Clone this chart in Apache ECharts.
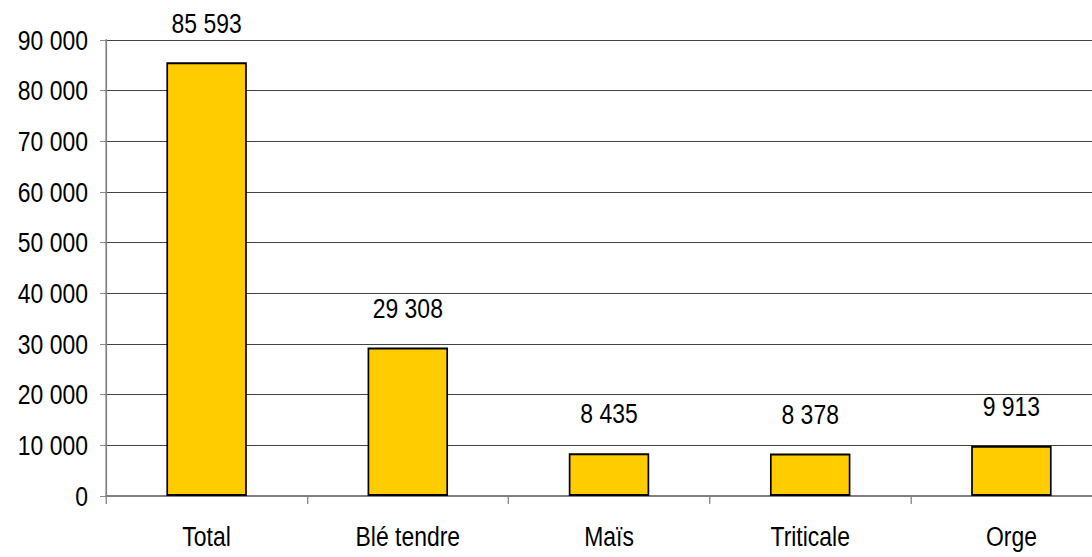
<!DOCTYPE html>
<html>
<head>
<meta charset="utf-8">
<script src="https://cdn.jsdelivr.net/npm/echarts@6/dist/echarts.min.js"></script>
<style>
  html, body { margin: 0; padding: 0; background: #fff; overflow: hidden; width: 1092px; height: 557px; }
  /* the reference uses a narrow font; draw wider and squeeze horizontally.
     The plot runs past the right edge of the picture, so the chart is wider than the page. */
  #chart { width: 1330px; height: 557px; transform: scaleX(0.85); transform-origin: 0 0; }
</style>
</head>
<body>
<div id="chart"></div>
<script>
const categories = ["Total", "Blé tendre", "Maïs", "Triticale", "Orge"];
const values = [85593, 29308, 8435, 8378, 9913];

const SX = 0.85;
const FONT = "'Liberation Sans', Arial, sans-serif";

// 85593 -> "85 593"
const fmt = (v) => String(v).replace(/\B(?=(\d{3})+(?!\d))/g, " ");

const chart = echarts.init(document.getElementById("chart"), null, { renderer: "svg" });
chart.setOption({
  animation: false,
  grid: { left: 106 / SX, width: 1006 / SX, top: 40, bottom: 61, containLabel: false },
  xAxis: {
    type: "category",
    data: categories,
    axisLine: { lineStyle: { color: "#808080", width: 2 } },
    axisTick: { show: true, length: 8, lineStyle: { color: "#808080", width: 1.5 } },
    axisLabel: { color: "#000", fontFamily: FONT, fontSize: 27, margin: 27 },
  },
  yAxis: {
    type: "value",
    min: 0,
    max: 90000,
    interval: 10000,
    axisLine: { show: true, lineStyle: { color: "#808080", width: 2 } },
    axisTick: { show: true, length: 6 / SX, lineStyle: { color: "#808080" } },
    axisLabel: { color: "#000", fontFamily: FONT, fontSize: 27, margin: 18 / SX, formatter: fmt },
    splitLine: { show: true, lineStyle: { color: "#333", width: 1 } },
  },
  series: [
    {
      type: "bar",
      data: values,
      barWidth: "40%",
      itemStyle: { color: "#FFCC00", borderColor: "#000", borderWidth: 2 },
      label: {
        show: true,
        position: "top",
        distance: 26,
        color: "#000",
        fontFamily: FONT,
        fontSize: 27,
        formatter: (p) => fmt(p.value),
      },
    },
  ],
});
</script>
</body>
</html>
